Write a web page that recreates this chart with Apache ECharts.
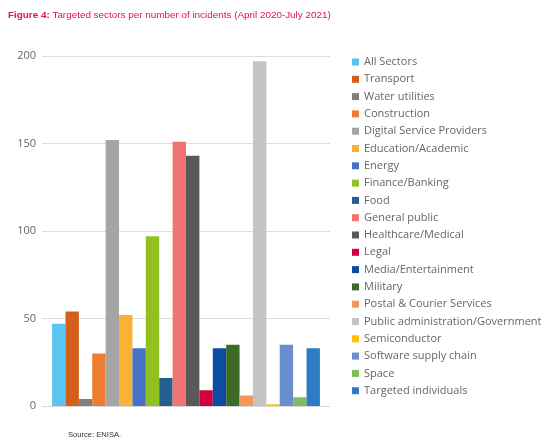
<!DOCTYPE html>
<html>
<head>
<meta charset="utf-8">
<script src="https://cdn.jsdelivr.net/npm/echarts@6/dist/echarts.min.js"></script>
<style>
  html, body { margin: 0; padding: 0; background: #fff; }
  #chart { width: 547px; height: 444px; }
</style>
</head>
<body>
<div id="chart"></div>
<script>
// Targeted sectors and number of incidents per sector
const sectors = [
  'All Sectors', 'Transport', 'Water utilities', 'Construction',
  'Digital Service Providers', 'Education/Academic', 'Energy',
  'Finance/Banking', 'Food', 'General public', 'Healthcare/Medical',
  'Legal', 'Media/Entertainment', 'Military', 'Postal & Courier Services',
  'Public administration/Government', 'Semiconductor',
  'Software supply chain', 'Space', 'Targeted individuals'
];
const incidents = [47, 54, 4, 30, 152, 52, 33, 97, 16, 151, 143, 9, 33, 35, 6, 197, 1, 35, 5, 33];
const yTicks = [0, 50, 100, 150, 200];

// Palette, one colour per sector
const palette = [
  '#5BC5F2', '#D2601A', '#7F7F7F', '#ED7D31', '#A5A5A5', '#F9B233',
  '#4472C4', '#92C01F', '#255E91', '#F07470', '#595959', '#D4003C',
  '#0B4DA2', '#3E6A27', '#F4955A', '#C3C3C3', '#FFC000', '#698ED0',
  '#7DBE5A', '#2E7BC4'
];

const chart = echarts.init(document.getElementById('chart'), null, { renderer: 'canvas' });

const series = sectors.map((name, i) => ({
  name: name,
  type: 'bar',
  data: [incidents[i]],
  barGap: '0%',
  barCategoryGap: '7%',
  itemStyle: { color: palette[i] }
}));

chart.setOption({
  animation: false,
  backgroundColor: '#ffffff',
  title: [{
    text: '{b|Figure 4:} Targeted sectors per number of incidents (April 2020-July 2021)',
    left: 8,
    top: 10,
    padding: 0,
    textStyle: {
      fontFamily: 'Liberation Sans, Arial, sans-serif',
      fontSize: 9.9,
      fontWeight: 'normal',
      color: '#E2104C',
      rich: {
        b: { fontFamily: 'Liberation Sans, Arial, sans-serif', fontSize: 9.9, fontWeight: 'bold', color: '#E2104C' }
      }
    }
  }, {
    text: 'Source: ENISA.',
    left: 68,
    top: 431,
    padding: 0,
    textStyle: {
      fontFamily: 'Liberation Sans, Arial, sans-serif',
      fontSize: 7.6,
      fontWeight: 'normal',
      color: '#333333'
    }
  }],
  grid: { left: 42, right: 217, top: 56, bottom: 38 },
  legend: {
    orient: 'vertical',
    left: 347,
    top: 50,
    icon: 'rect',
    itemWidth: 7,
    itemHeight: 7,
    itemGap: 3.3,
    textStyle: {
      fontFamily: 'Open Sans, sans-serif',
      fontSize: 11,
      lineHeight: 14,
      color: '#666666',
      padding: [0, 0, 0, 0]
    },
    data: sectors
  },
  xAxis: {
    type: 'category',
    data: [''],
    axisLine: { show: true, lineStyle: { color: '#D9D9D9' } },
    axisTick: { show: false },
    axisLabel: { show: false }
  },
  yAxis: {
    type: 'value',
    min: yTicks[0],
    max: yTicks[yTicks.length - 1],
    interval: 50,
    axisLine: { show: false },
    axisTick: { show: false },
    axisLabel: {
      fontFamily: 'Open Sans, sans-serif',
      fontSize: 11,
      color: '#666666',
      margin: 6
    },
    splitLine: { lineStyle: { color: '#DDDDDD', width: 1 } }
  },
  series: series
});
</script>
</body>
</html>
